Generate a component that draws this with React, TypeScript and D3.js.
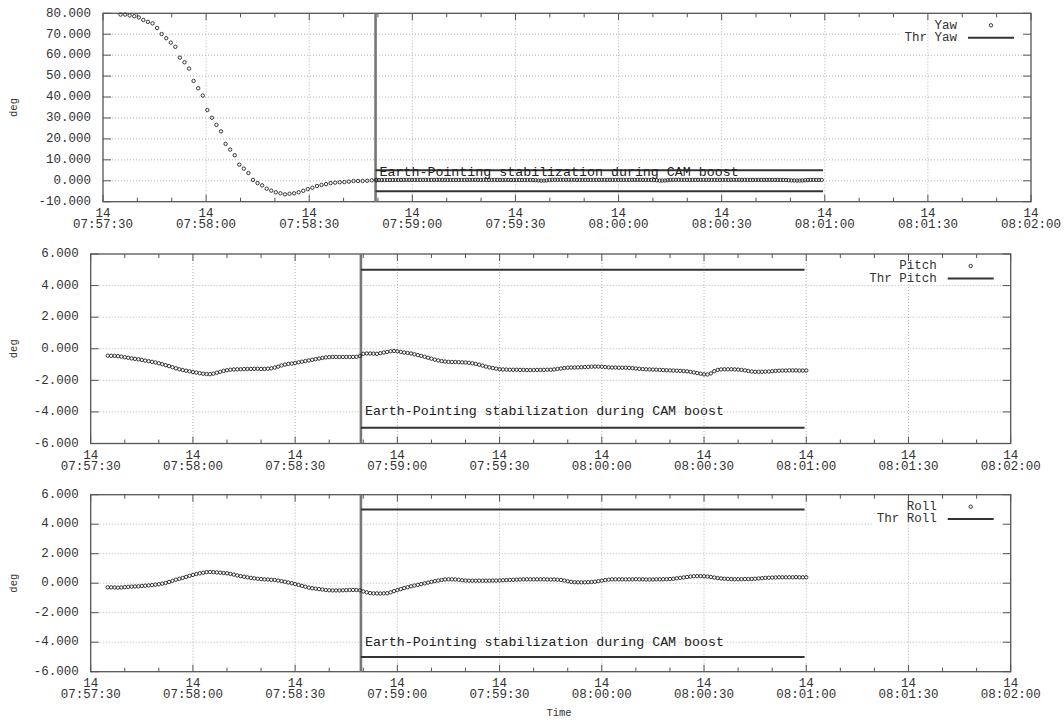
import React from "react";
import * as d3 from "d3";

// ---------- DATA ----------
// time offsets are seconds after 14 07:57:30
const yawAStart = 5.1;
const yawAStep = 1.329;
const yawA = [
  79.4, 79.4, 79.0, 78.6, 78.0, 76.8, 75.9, 75.2, 73.0, 70.1,
  68.1, 66.0, 64.0, 58.8, 56.6, 53.6, 47.7, 44.2, 40.7, 33.8,
  30.1, 26.7, 23.6, 17.6, 14.9, 12.2, 7.7, 5.8, 3.7, 0.4,
  -1.1, -2.2, -3.8, -4.7, -5.5, -6.0, -6.5, -6.2, -6.0, -5.5,
  -4.8, -4.0, -3.3, -2.5, -2.0, -1.6, -1.1, -0.9, -0.7, -0.6,
  -0.4, -0.1, -0.1, -0.1, 0.0, 0.2, 0.3,
];
const yawBStart = 79.5;
const yawBStep = 0.8;
const yawB = [
  0.30, 0.32, 0.34, 0.35, 0.36, 0.37, 0.38, 0.38, 0.39, 0.39,
  0.40, 0.40, 0.40, 0.41, 0.41, 0.41, 0.41, 0.42, 0.42, 0.42,
  0.42, 0.42, 0.42, 0.41, 0.41, 0.41, 0.40, 0.40, 0.40, 0.40,
  0.40, 0.40, 0.40, 0.41, 0.41, 0.41, 0.42, 0.42, 0.42, 0.42,
  0.42, 0.41, 0.41, 0.40, 0.40, 0.39, 0.39, 0.38, 0.38, 0.37,
  0.38, 0.38, 0.38, 0.38, 0.38, 0.38, 0.37, 0.34, 0.26, 0.14,
  0.10, 0.12, 0.20, 0.36, 0.46, 0.48, 0.47, 0.46, 0.45, 0.45,
  0.44, 0.44, 0.44, 0.43, 0.43, 0.43, 0.42, 0.42, 0.42, 0.42,
  0.42, 0.42, 0.42, 0.42, 0.42, 0.42, 0.42, 0.43, 0.43, 0.43,
  0.43, 0.43, 0.43, 0.42, 0.42, 0.42, 0.42, 0.41, 0.41, 0.40,
  0.38, 0.34, 0.24, 0.12, 0.10, 0.14, 0.28, 0.40, 0.44, 0.45,
  0.45, 0.44, 0.44, 0.43, 0.43, 0.43, 0.43, 0.43, 0.42, 0.42,
  0.42, 0.42, 0.42, 0.42, 0.42, 0.42, 0.42, 0.42, 0.42, 0.42,
  0.42, 0.42, 0.42, 0.42, 0.42, 0.42, 0.41, 0.41, 0.41, 0.41,
  0.41, 0.41, 0.41, 0.41, 0.41, 0.40, 0.40, 0.40, 0.38, 0.34,
  0.26, 0.18, 0.14, 0.12, 0.12, 0.16, 0.24, 0.34, 0.40, 0.41,
  0.41, 0.41, 0.41,
];

const attStart = 5;
const attStep = 1;
const pitchValues = [
  -0.44, -0.45, -0.45, -0.47, -0.50, -0.54, -0.57, -0.61, -0.64, -0.67,
  -0.71, -0.75, -0.79, -0.83, -0.87, -0.92, -0.98, -1.04, -1.10, -1.17,
  -1.24, -1.30, -1.35, -1.39, -1.43, -1.47, -1.51, -1.55, -1.58, -1.60,
  -1.61, -1.58, -1.52, -1.46, -1.40, -1.36, -1.33, -1.31, -1.30, -1.30,
  -1.29, -1.28, -1.28, -1.27, -1.27, -1.28, -1.28, -1.26, -1.24, -1.19,
  -1.13, -1.06, -1.00, -0.96, -0.94, -0.90, -0.86, -0.82, -0.78, -0.74,
  -0.70, -0.66, -0.62, -0.58, -0.55, -0.53, -0.52, -0.52, -0.52, -0.52,
  -0.52, -0.52, -0.52, -0.51, -0.46, -0.32, -0.30, -0.30, -0.31, -0.32,
  -0.28, -0.24, -0.20, -0.16, -0.14, -0.16, -0.20, -0.24, -0.27, -0.30,
  -0.35, -0.40, -0.45, -0.51, -0.57, -0.63, -0.69, -0.74, -0.78, -0.81,
  -0.83, -0.84, -0.84, -0.85, -0.86, -0.87, -0.89, -0.92, -0.96, -1.01,
  -1.07, -1.13, -1.18, -1.22, -1.26, -1.29, -1.31, -1.32, -1.33, -1.33,
  -1.33, -1.34, -1.34, -1.35, -1.35, -1.35, -1.34, -1.34, -1.34, -1.33,
  -1.33, -1.31, -1.28, -1.25, -1.22, -1.20, -1.19, -1.19, -1.18, -1.17,
  -1.16, -1.15, -1.14, -1.13, -1.13, -1.14, -1.16, -1.18, -1.19, -1.19,
  -1.20, -1.20, -1.20, -1.21, -1.23, -1.25, -1.27, -1.29, -1.30, -1.31,
  -1.32, -1.33, -1.34, -1.35, -1.36, -1.37, -1.38, -1.39, -1.40, -1.41,
  -1.43, -1.46, -1.50, -1.54, -1.58, -1.62, -1.63, -1.56, -1.42, -1.34,
  -1.31, -1.30, -1.30, -1.30, -1.31, -1.32, -1.34, -1.37, -1.41, -1.44,
  -1.46, -1.46, -1.46, -1.45, -1.44, -1.42, -1.40, -1.39, -1.38, -1.38,
  -1.37, -1.37, -1.37, -1.38, -1.38, -1.38,
];
const rollValues = [
  -0.28, -0.28, -0.29, -0.30, -0.29, -0.27, -0.25, -0.23, -0.22, -0.21,
  -0.19, -0.17, -0.15, -0.13, -0.10, -0.07, -0.03, 0.02, 0.08, 0.16,
  0.24, 0.30, 0.36, 0.43, 0.50, 0.56, 0.62, 0.67, 0.71, 0.75,
  0.76, 0.75, 0.73, 0.71, 0.69, 0.67, 0.63, 0.58, 0.53, 0.48,
  0.44, 0.40, 0.36, 0.33, 0.30, 0.28, 0.26, 0.25, 0.23, 0.22,
  0.18, 0.14, 0.10, 0.05, 0.00, -0.06, -0.12, -0.18, -0.24, -0.30,
  -0.34, -0.37, -0.40, -0.43, -0.46, -0.48, -0.49, -0.49, -0.49, -0.48,
  -0.47, -0.46, -0.46, -0.46, -0.48, -0.56, -0.62, -0.67, -0.69, -0.69,
  -0.70, -0.69, -0.68, -0.62, -0.54, -0.47, -0.40, -0.33, -0.27, -0.21,
  -0.16, -0.11, -0.06, -0.01, 0.04, 0.09, 0.14, 0.18, 0.22, 0.25,
  0.26, 0.26, 0.25, 0.23, 0.20, 0.18, 0.17, 0.17, 0.17, 0.17,
  0.17, 0.17, 0.17, 0.18, 0.18, 0.19, 0.20, 0.21, 0.22, 0.23,
  0.24, 0.25, 0.26, 0.26, 0.26, 0.26, 0.26, 0.26, 0.26, 0.25,
  0.25, 0.25, 0.24, 0.22, 0.18, 0.13, 0.09, 0.07, 0.06, 0.06,
  0.06, 0.07, 0.08, 0.10, 0.14, 0.18, 0.21, 0.24, 0.26, 0.26,
  0.26, 0.26, 0.26, 0.26, 0.26, 0.27, 0.26, 0.26, 0.25, 0.25,
  0.25, 0.26, 0.26, 0.27, 0.27, 0.28, 0.30, 0.33, 0.36, 0.39,
  0.42, 0.45, 0.47, 0.48, 0.48, 0.47, 0.45, 0.42, 0.38, 0.35,
  0.32, 0.30, 0.29, 0.28, 0.27, 0.27, 0.27, 0.28, 0.28, 0.29,
  0.30, 0.32, 0.34, 0.36, 0.37, 0.38, 0.39, 0.40, 0.40, 0.40,
  0.40, 0.40, 0.41, 0.40, 0.40, 0.40,
];

const markerTime = 79.3;
const thresholdEnd = 209.5;
const yawThreshold = [5, -5];
const attThreshold = [5, -5];
const annotation = "Earth-Pointing stabilization during CAM boost";
const seriesNames = ["Yaw", "Pitch", "Roll"];
const thrNames = ["Thr Yaw", "Thr Pitch", "Thr Roll"];
const yDomains = [[-10, 80], [-6, 6], [-6, 6]];
const yStepList = [10, 2, 2];
const annotationY = [4, -4, -4];
const xDomainSeconds = [0, 270];

// ---------- helpers ----------
const BASE = new Date(2014, 0, 14, 7, 57, 30).getTime();
const toDate = (t: number) => new Date(BASE + t * 1000);
const build = (start: number, step: number, vals: number[]) =>
  vals.map((v, i) => ({ t: start + i * step, v }));

const yawData = [...build(yawAStart, yawAStep, yawA), ...build(yawBStart, yawBStep, yawB)];
const pitchData = build(attStart, attStep, pitchValues);
const rollData = build(attStart, attStep, rollValues);
const allData = [yawData, pitchData, rollData];
const allThr = [yawThreshold, attThreshold, attThreshold];

const layouts = [
  { left: 103, right: 1031, top: 13.3, bottom: 201.7 },
  { left: 90.7, right: 1010.7, top: 254, bottom: 443.5 },
  { left: 90.7, right: 1010.7, top: 494.7, bottom: 671.7 },
];

const FONT = "'Liberation Mono', 'DejaVu Sans Mono', monospace";
const BORDER = "#555";
const TEXT = "#333";
const fmtY = (v: number) => d3.format(".3f")(v).replace("\u2212", "-");
const fmtDay = d3.timeFormat("%d");
const fmtTime = d3.timeFormat("%H:%M:%S");

function Panel({ idx }: { idx: number }) {
  const L = layouts[idx];
  const x = d3.scaleTime().domain([toDate(xDomainSeconds[0]), toDate(xDomainSeconds[1])]).range([L.left, L.right]);
  const [y0, y1] = yDomains[idx];
  const y = d3.scaleLinear().domain([y0, y1]).range([L.bottom, L.top]);
  const yTicks = d3.range(y0, y1 + 1e-9, yStepList[idx]);
  const xMajor = x.ticks(d3.timeSecond.every(30) as any);
  const xMinor = x.ticks(d3.timeSecond.every(10) as any);
  const data = allData[idx];
  const thr = allThr[idx];
  const mx = x(toDate(markerTime));
  const ex = x(toDate(thresholdEnd));
  const legTextEnd = L.right - 74;
  const legW = thrNames[idx].length * 7.5;
  const legRectX = legTextEnd - legW - 4;

  return (
    <g>
      {/* horizontal grid */}
      {yTicks.slice(1, -1).map((v) => (
        <line key={"hg" + v} x1={L.left} x2={L.right} y1={y(v)} y2={y(v)} stroke="#b4b4b4" strokeWidth={1} strokeDasharray="1,2" />
      ))}
      {/* legend background */}
      <rect x={legRectX} y={L.top + 1} width={L.right - legRectX - 1} height={29.2} fill="#fff" />
      {/* vertical grid */}
      {xMajor.slice(1, -1).map((d, i) => (
        <line key={"vg" + i} x1={x(d)} x2={x(d)} y1={L.top} y2={L.bottom} stroke="#b4b4b4" strokeWidth={1} strokeDasharray="1,2" />
      ))}
      {/* border */}
      <rect x={L.left} y={L.top} width={L.right - L.left} height={L.bottom - L.top} fill="none" stroke={BORDER} strokeWidth={1.3} />
      {/* x ticks */}
      {xMinor.map((d, i) => {
        const isMajor = d.getSeconds() % 30 === 0;
        const len = isMajor ? 7 : 4;
        return (
          <g key={"xt" + i}>
            <line x1={x(d)} x2={x(d)} y1={L.bottom} y2={L.bottom - len} stroke={BORDER} strokeWidth={1} />
            <line x1={x(d)} x2={x(d)} y1={L.top} y2={L.top + len} stroke={BORDER} strokeWidth={1} />
          </g>
        );
      })}
      {xMajor.map((d, i) => (
        <g key={"xl" + i} fontFamily={FONT} fontSize={12.5} fill={TEXT} textAnchor="middle">
          <text x={x(d)} y={L.bottom + 11.8} dominantBaseline="middle">{fmtDay(d)}</text>
          <text x={x(d)} y={L.bottom + 23.2} dominantBaseline="middle">{fmtTime(d)}</text>
        </g>
      ))}
      {/* y ticks */}
      {yTicks.map((v) => (
        <g key={"yt" + v}>
          <line x1={L.left} x2={L.left + 8} y1={y(v)} y2={y(v)} stroke={BORDER} strokeWidth={1} />
          <line x1={L.right} x2={L.right - 8} y1={y(v)} y2={y(v)} stroke={BORDER} strokeWidth={1} />
          <text x={L.left - 12} y={y(v)} textAnchor="end" dominantBaseline="middle" fontFamily={FONT} fontSize={12.5} fill={TEXT}>
            {fmtY(v)}
          </text>
        </g>
      ))}
      <text transform={`translate(14,${(L.top + L.bottom) / 2}) rotate(-90)`} textAnchor="middle" dominantBaseline="middle" fontFamily={FONT} fontSize={10.5} fill={TEXT}>
        deg
      </text>
      {/* marker & thresholds */}
      <line x1={mx} x2={mx} y1={L.top} y2={L.bottom} stroke="#777" strokeWidth={2.6} />
      {thr.map((v) => (
        <line key={"thr" + v} x1={mx} x2={ex} y1={y(v)} y2={y(v)} stroke="#333" strokeWidth={2} />
      ))}
      <text x={mx + 4} y={y(annotationY[idx])} dominantBaseline="middle" fontFamily={FONT} fontSize={13.3} fill="#222">
        {annotation}
      </text>
      {/* data */}
      {data.map((p, i) => (
        <circle key={"p" + i} cx={x(toDate(p.t))} cy={y(p.v)} r={1.7} fill="none" stroke="#222" strokeWidth={0.9} />
      ))}
      {/* legend */}
      <g fontFamily={FONT} fontSize={12.5} fill={TEXT} textAnchor="end">
        <text x={legTextEnd} y={L.top + 12} dominantBaseline="middle">{seriesNames[idx]}</text>
        <text x={legTextEnd} y={L.top + 24.4} dominantBaseline="middle">{thrNames[idx]}</text>
      </g>
      <circle cx={L.right - 40} cy={L.top + 12} r={1.7} fill="none" stroke="#222" strokeWidth={0.9} />
      <line x1={L.right - 63} x2={L.right - 17} y1={L.top + 24.4} y2={L.top + 24.4} stroke="#333" strokeWidth={2} />
    </g>
  );
}

export default function App() {
  return (
    <svg width={1064} height={720} style={{ position: "absolute", left: 0, top: 0, background: "#fff" }}>
      <rect x={0} y={0} width={1064} height={720} fill="#fff" />
      {[0, 1, 2].map((i) => (
        <Panel key={i} idx={i} />
      ))}
      <text x={559} y={713} textAnchor="middle" dominantBaseline="middle" fontFamily={FONT} fontSize={10.5} fill={TEXT}>
        Time
      </text>
    </svg>
  );
}
